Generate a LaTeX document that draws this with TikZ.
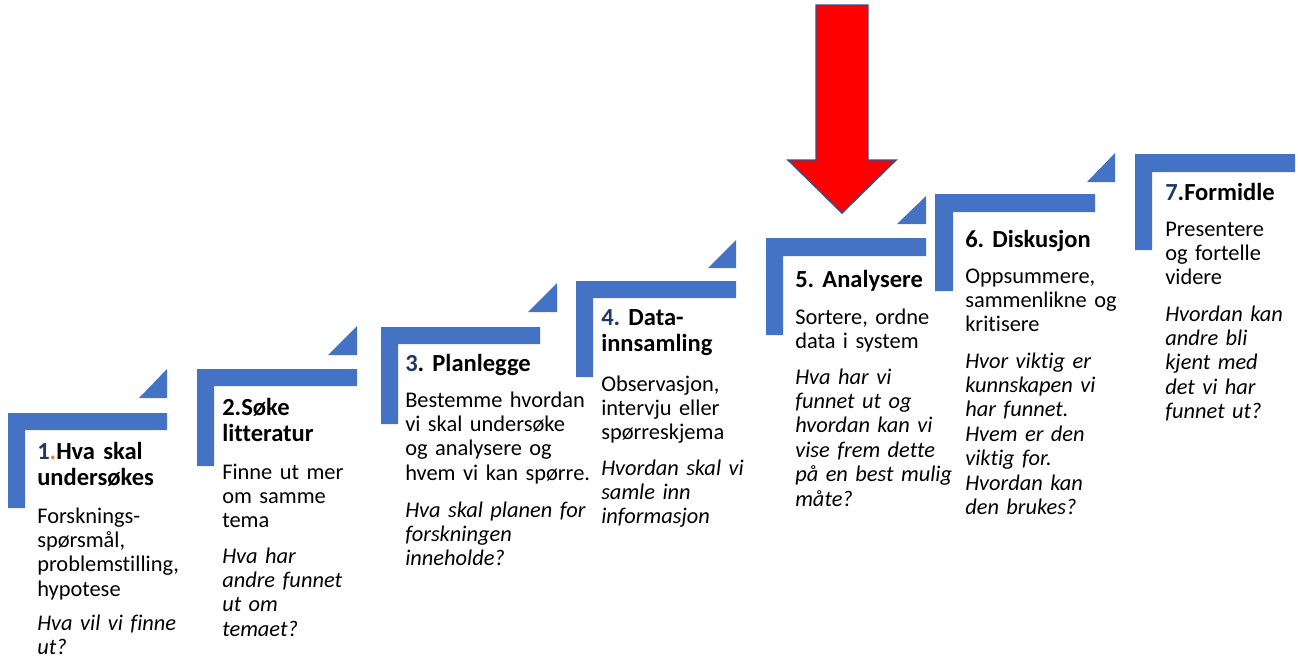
\documentclass[tikz,border=0pt]{standalone}
\usepackage{fontspec}
\setmainfont{Carlito}[Ligatures={CommonOff,ContextualOff}]
\definecolor{stairblue}{HTML}{4472C4}
\definecolor{numnavy}{HTML}{1F3864}
\definecolor{dotorange}{HTML}{ED7D31}
\definecolor{arrowedge}{HTML}{2F528F}

\begin{document}
\frenchspacing
\begin{tikzpicture}[x=0.75pt, y=-0.75pt,
        stair/.style={fill=stairblue},
        textblock/.style={anchor=base west, inner sep=0pt, text width=170pt, align=left},
        heading/.style={textblock, font=\bfseries\fontsize{18.4}{19.8}\selectfont},
        body/.style={textblock, font=\fontsize{16.8}{18.3}\selectfont},
        question/.style={textblock, font=\itshape\fontsize{16.8}{18.3}\selectfont}]
        \useasboundingbox (0,0) rectangle (1298,658);

        % step 1
        \fill[stair] (8,413) -- ++(159,0) -- ++(0,17) -- ++(-142,0) -- ++(0,78) -- ++(-17,0) -- cycle;
        \fill[stair] (167,398) -- ++(0,-29) -- ++(-28,29) -- cycle;
        \node[heading] (h1) at (37,459) {\textcolor{numnavy}{1}\textcolor{dotorange}{.}Hva skal\\undersøkes};
        \node[body] (b1) at (37,523) {Forsknings-\\spørsmål,\\problemstilling,\\hypotese};
        \node[question] (q1) at (37,630) {Hva vil vi finne\\ut?};

        % step 2
        \fill[stair] (197,369) -- ++(160,0) -- ++(0,17) -- ++(-143,0) -- ++(0,80) -- ++(-17,0) -- cycle;
        \fill[stair] (357,355) -- ++(0,-29) -- ++(-29,29) -- cycle;
        \node[heading] (h2) at (222,415) {2.Søke\\litteratur};
        \node[body] (b2) at (222,479) {Finne ut mer\\om samme\\tema};
        \node[question] (q2) at (222,563) {Hva har\\andre funnet\\ut om\\temaet?};

        % step 3
        \fill[stair] (381,327) -- ++(159,0) -- ++(0,17) -- ++(-142,0) -- ++(0,80) -- ++(-17,0) -- cycle;
        \fill[stair] (557,312) -- ++(0,-29) -- ++(-29,29) -- cycle;
        \node[heading] (h3) at (405,371) {\textcolor{numnavy}{3}. Planlegge};
        \node[body] (b3) at (405,407) {Bestemme hvordan\\vi skal undersøke\\og analysere og\\hvem vi kan spørre.};
        \node[question] (q3) at (405,517) {Hva skal planen for\\forskningen\\inneholde?};

        % step 4
        \fill[stair] (576,281) -- ++(160,0) -- ++(0,17) -- ++(-143,0) -- ++(0,79) -- ++(-17,0) -- cycle;
        \fill[stair] (736,268) -- ++(0,-28) -- ++(-28,28) -- cycle;
        \node[heading] (h4) at (601,325) {\textcolor{numnavy}{4.} Data-\\innsamling};
        \node[body] (b4) at (601,391) {Observasjon,\\intervju eller\\spørreskjema};
        \node[question] (q4) at (601,475) {Hvordan skal vi\\samle inn\\informasjon};

        % step 5
        \fill[stair] (766,238) -- ++(160,0) -- ++(0,18) -- ++(-143,0) -- ++(0,79) -- ++(-17,0) -- cycle;
        \fill[stair] (926,224) -- ++(0,-28) -- ++(-29,28) -- cycle;
        \node[heading] (h5) at (795,287) {5. Analysere};
        \node[body] (b5) at (795,324) {Sortere, ordne\\data i system};
        \node[question] (q5) at (795,384) {Hva har vi\\funnet ut og\\hvordan kan vi\\vise frem dette\\på en best mulig\\måte?};

        % step 6
        \fill[stair] (935,194) -- ++(160,0) -- ++(0,18) -- ++(-142,0) -- ++(0,79) -- ++(-18,0) -- cycle;
        \fill[stair] (1115,182) -- ++(0,-29) -- ++(-28,29) -- cycle;
        \node[heading] (h6) at (965,247) {6. Diskusjon};
        \node[body] (b6) at (965,283) {Oppsummere,\\sammenlikne og\\kritisere};
        \node[question] (q6) at (965,368) {Hvor viktig er\\kunnskapen vi\\har funnet.\\Hvem er den\\viktig for.\\Hvordan kan\\den brukes?};

        % step 7
        \fill[stair] (1135,154) -- ++(160,0) -- ++(0,18) -- ++(-143,0) -- ++(0,78) -- ++(-17,0) -- cycle;
        \node[heading] (h7) at (1165,200) {\textcolor{numnavy}{7}.Formidle};
        \node[body] (b7) at (1165,236) {Presentere\\og fortelle\\videre};
        \node[question] (q7) at (1165,321) {Hvordan kan\\andre bli\\kjent med\\det vi har\\funnet ut?};

        % arrow pointing at step 5
        \filldraw[fill=red, draw=arrowedge, line width=1.1pt, line join=miter]
            (816,5) -- (868,5) -- (868,160) -- (896,160) -- (842,213) -- (788,160) -- (816,160) -- cycle;
    \end{tikzpicture}
\end{document}
